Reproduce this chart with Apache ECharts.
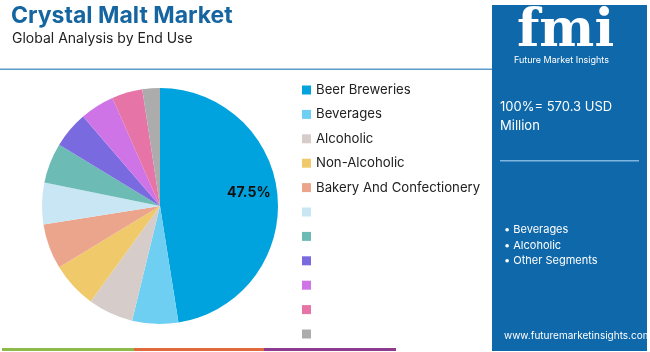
<!DOCTYPE html>
<html>
<head>
    <meta charset="UTF-8">
    <title>Crystal Malt Market</title>
    <script src="https://cdn.jsdelivr.net/npm/echarts/dist/echarts.min.js"></script>
    <style>
        html, body { margin: 0; padding: 0; background: #fff; }
        #main { width: 650px; height: 352px; }
    </style>
</head>
<body>
    <div id="main"></div>
    <script>
        // segments, clockwise from 12 o'clock
        var segments = ['Beer Breweries', 'Beverages', 'Alcoholic', 'Non-Alcoholic', 'Bakery And Confectionery',
            'Seg 6', 'Seg 7', 'Seg 8', 'Seg 9', 'Seg 10', 'Seg 11'];
        var shares = [47.5, 6.3, 6.2, 6.3, 6.2, 5.7, 5.5, 5.0, 4.7, 4.2, 2.4];
        var colors = ['#00a3dd', '#6fcff3', '#d6cdcb', '#efc96a', '#eba58c', '#c9e6f5',
            '#6cbcb5', '#7a6ae0', '#cf74e6', '#e674a6', '#acacac'];
        var bullets = ['• Beverages', '• Alcoholic', '• Other Segments'];

        var font = 'Inter, "Open Sans", sans-serif';
        var myChart = echarts.init(document.getElementById('main'));

        var pieData = segments.map(function (name, i) {
            var item = { name: name, value: shares[i], itemStyle: { color: colors[i] } };
            if (i === 0) {
                item.label = { show: true };
            }
            return item;
        });

        var option = {
            animation: false,
            title: [
                {
                    text: 'Crystal Malt Market',
                    left: 6, top: 0,
                    textStyle: { fontFamily: font, fontSize: 23, fontWeight: 'bold', color: '#1565a0' }
                },
                {
                    text: 'Global Analysis by End Use',
                    left: 7, top: 27,
                    textStyle: { fontFamily: font, fontSize: 14, fontWeight: 'normal', color: '#222' }
                }
            ],
            legend: {
                orient: 'vertical',
                left: 297, top: 77,
                padding: 5,
                itemWidth: 9, itemHeight: 9,
                itemGap: 8.4,
                icon: 'rect',
                formatter: function (name) {
                    // the unnamed slices keep a blank label row
                    return name.indexOf('Seg ') === 0 ? ' ' : name;
                },
                textStyle: { fontFamily: font, fontSize: 13.2, color: '#222', lineHeight: 16 },
                data: segments
            },
            series: [{
                type: 'pie',
                center: [160, 206],
                radius: [0, 118],
                startAngle: 90,
                clockwise: true,
                label: {
                    show: false,
                    position: 'inside',
                    formatter: '{c}%',
                    offset: [27, -8],
                    fontFamily: font,
                    fontSize: 14,
                    fontWeight: 'bold',
                    color: '#111'
                },
                labelLine: { show: false },
                emphasis: { disabled: true },
                data: pieData
            }],
            graphic: [
                { type: 'rect', shape: { x: 0, y: 68.5, width: 492, height: 1.5 }, style: { fill: '#5c9cc9' } },
                { type: 'rect', shape: { x: 2, y: 348, width: 132, height: 3 }, style: { fill: '#8cba4b' } },
                { type: 'rect', shape: { x: 134, y: 348, width: 130, height: 3 }, style: { fill: '#e06a3a' } },
                { type: 'rect', shape: { x: 264, y: 348, width: 132, height: 3 }, style: { fill: '#8c3b8f' } },
                { type: 'rect', shape: { x: 492, y: 5, width: 155, height: 346 }, style: { fill: '#0e68aa' } },
                {
                    type: 'text', left: 517, top: 6,
                    style: { text: 'fmi', fill: '#fff', font: 'bold 52px "DejaVu Serif", serif' }
                },
                {
                    type: 'text', left: 514, top: 56,
                    style: { text: 'Future Market Insights', fill: '#fff', font: '9px ' + font }
                },
                {
                    type: 'text', left: 500, top: 98,
                    style: { text: '100%= 570.3 USD\nMillion', fill: '#fff', font: '13px ' + font, lineHeight: 19 }
                },
                { type: 'rect', shape: { x: 500, y: 160, width: 139, height: 1.5 }, style: { fill: '#7fb6df' } },
                {
                    type: 'text', left: 504, top: 222,
                    style: { text: bullets.join('\n'), fill: '#fff', font: '11px ' + font, lineHeight: 15.5 }
                },
                {
                    type: 'text', left: 504, top: 331,
                    style: { text: 'www.futuremarketinsights.com', fill: '#fff', font: '10px ' + font }
                }
            ]
        };

        myChart.setOption(option);
    </script>
</body>
</html>
